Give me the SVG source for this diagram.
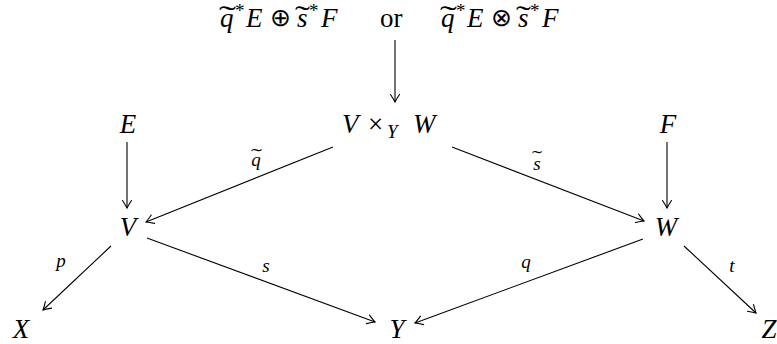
<svg xmlns="http://www.w3.org/2000/svg" width="777" height="344" viewBox="0 0 777 344">
<defs>
<marker id="ah" viewBox="-10 -6 12 12" refX="0" refY="0" markerWidth="12" markerHeight="12" markerUnits="userSpaceOnUse" orient="auto">
<path d="M-7.5,-4.5 Q-2.5,-1.2 0,0 Q-2.5,1.2 -7.5,4.5" fill="none" stroke="#000" stroke-width="1.1" stroke-linecap="round"/>
</marker>
</defs>
<g id="top">
<text x="220" y="27" font-family="Liberation Serif" font-size="27" font-style="italic">q</text>
<text x="219" y="25" font-family="Liberation Serif" font-size="27" textLength="17" lengthAdjust="spacingAndGlyphs">˜</text>
<text x="235" y="17" font-family="Liberation Serif" font-size="19">*</text>
<text x="246" y="27" font-family="Liberation Serif" font-size="27" font-style="italic">E</text>
<text x="270" y="26" font-family="Liberation Serif" font-size="25">⊕</text>
<text x="297" y="27" font-family="Liberation Serif" font-size="27" font-style="italic">s</text>
<text x="295" y="25" font-family="Liberation Serif" font-size="27" textLength="15" lengthAdjust="spacingAndGlyphs">˜</text>
<text x="309" y="17" font-family="Liberation Serif" font-size="19">*</text>
<text x="321" y="27" font-family="Liberation Serif" font-size="27" font-style="italic">F</text>
<text x="380" y="27" font-family="Liberation Serif" font-size="27">or</text>
<text x="441" y="27" font-family="Liberation Serif" font-size="27" font-style="italic">q</text>
<text x="440" y="25" font-family="Liberation Serif" font-size="27" textLength="17" lengthAdjust="spacingAndGlyphs">˜</text>
<text x="456" y="17" font-family="Liberation Serif" font-size="19">*</text>
<text x="467" y="27" font-family="Liberation Serif" font-size="27" font-style="italic">E</text>
<text x="491" y="26" font-family="Liberation Serif" font-size="25">⊗</text>
<text x="518" y="27" font-family="Liberation Serif" font-size="27" font-style="italic">s</text>
<text x="516" y="25" font-family="Liberation Serif" font-size="27" textLength="15" lengthAdjust="spacingAndGlyphs">˜</text>
<text x="530" y="17" font-family="Liberation Serif" font-size="19">*</text>
<text x="542" y="27" font-family="Liberation Serif" font-size="27" font-style="italic">F</text>
</g>
<g id="VxW">
<text x="342" y="133" font-family="Liberation Serif" font-size="27" font-style="italic">V</text>
<text x="368" y="133" font-family="Liberation Serif" font-size="27">×</text>
<text x="387" y="138" font-family="Liberation Serif" font-size="19" font-style="italic">Y</text>
<text x="413" y="133" font-family="Liberation Serif" font-size="27" font-style="italic">W</text>
</g>
<g id="E"><text x="128" y="133" font-family="Liberation Serif" font-size="27" font-style="italic" text-anchor="middle">E</text></g>
<g id="F"><text x="668" y="133" font-family="Liberation Serif" font-size="27" font-style="italic" text-anchor="middle">F</text></g>
<g id="V"><text x="128" y="236" font-family="Liberation Serif" font-size="27" font-style="italic" text-anchor="middle">V</text></g>
<g id="W"><text x="666" y="236" font-family="Liberation Serif" font-size="27" font-style="italic" text-anchor="middle">W</text></g>
<g id="X"><text x="21" y="338" font-family="Liberation Serif" font-size="27" font-style="italic" text-anchor="middle">X</text></g>
<g id="Y"><text x="397" y="338" font-family="Liberation Serif" font-size="27" font-style="italic" text-anchor="middle">Y</text></g>
<g id="Z"><text x="769" y="338" font-family="Liberation Serif" font-size="27" font-style="italic" text-anchor="middle">Z</text></g>
<g id="connectors" stroke="#000" stroke-width="1.1" fill="none" marker-end="url(#ah)">
<line x1="395" y1="40" x2="395" y2="102"/>
<line x1="127" y1="142" x2="127" y2="208"/>
<line x1="667" y1="142" x2="667" y2="208"/>
<line x1="333" y1="147" x2="146" y2="222"/>
<line x1="452" y1="147" x2="644" y2="221"/>
<line x1="111" y1="246" x2="43" y2="310"/>
<line x1="147" y1="238" x2="375" y2="322"/>
<line x1="643" y1="239" x2="415" y2="323"/>
<line x1="684" y1="246" x2="756" y2="313"/>
</g>
<g id="labels">
<text x="256" y="166" font-family="Liberation Serif" font-size="19" font-style="italic" text-anchor="middle">q</text>
<text x="251" y="162" font-family="Liberation Serif" font-size="19" textLength="11" lengthAdjust="spacingAndGlyphs">˜</text>
<text x="537" y="170" font-family="Liberation Serif" font-size="19" font-style="italic" text-anchor="middle">s</text>
<text x="532" y="164" font-family="Liberation Serif" font-size="19" textLength="10" lengthAdjust="spacingAndGlyphs">˜</text>
<text x="61" y="267" font-family="Liberation Serif" font-size="19" font-style="italic" text-anchor="middle">p</text>
<text x="266" y="272" font-family="Liberation Serif" font-size="19" font-style="italic" text-anchor="middle">s</text>
<text x="526" y="268" font-family="Liberation Serif" font-size="19" font-style="italic" text-anchor="middle">q</text>
<text x="732" y="272" font-family="Liberation Serif" font-size="19" font-style="italic" text-anchor="middle">t</text>
</g>
</svg>
